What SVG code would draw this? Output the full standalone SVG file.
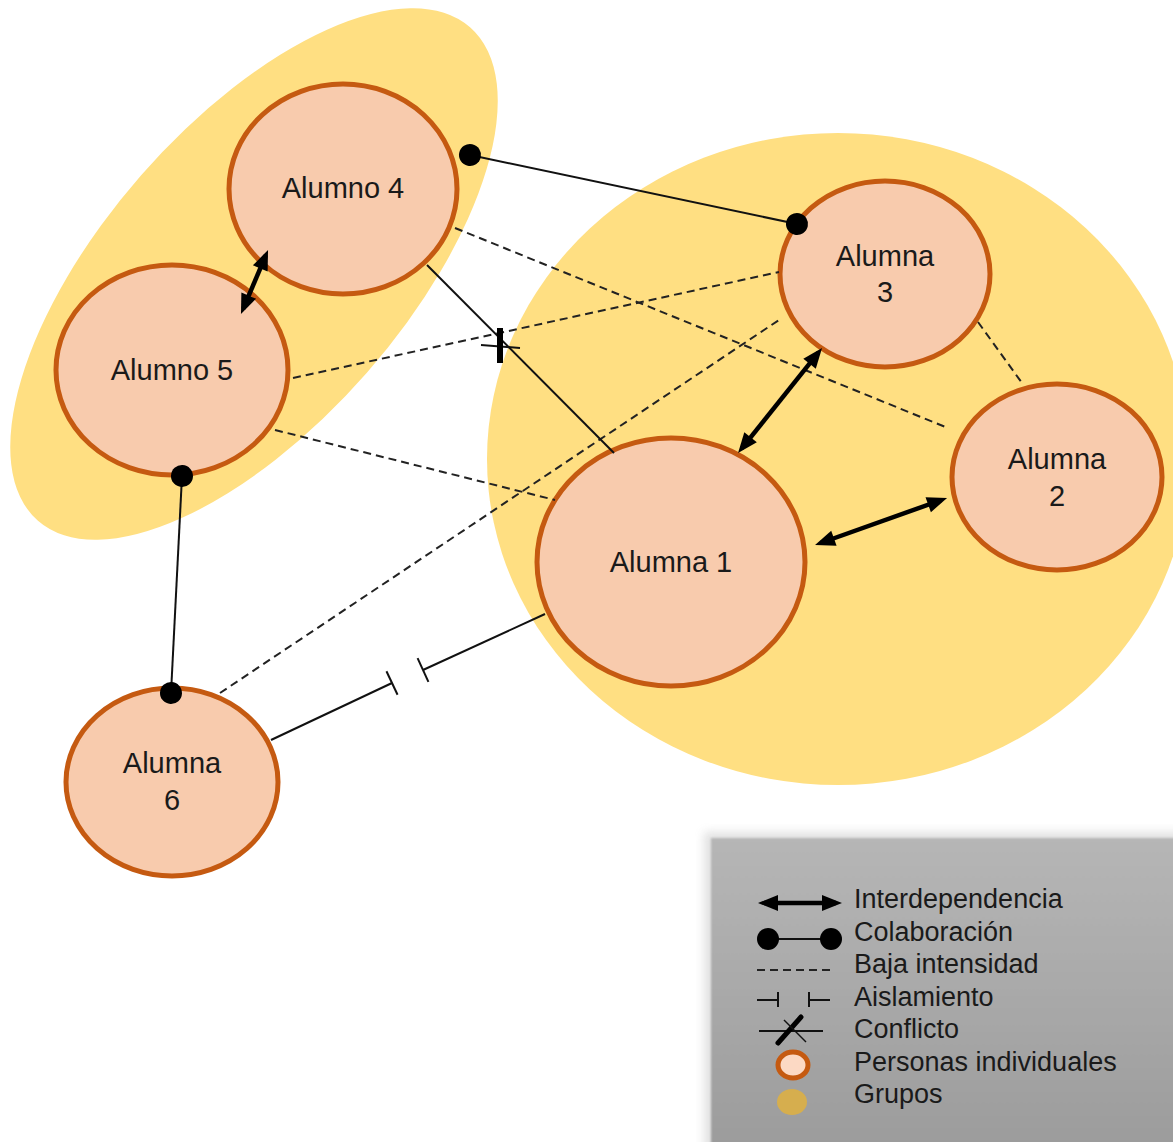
<svg xmlns="http://www.w3.org/2000/svg" width="1173" height="1142" viewBox="0 0 1173 1142">
  <defs>
    <style>
      .group { fill: #FFDF82; }
      .node { fill: #F8CBAD; stroke: #C55A11; stroke-width: 5; }
      .label { font-family: "Liberation Sans", Arial, sans-serif; font-size: 29px; fill: #1a1a1a; text-anchor: middle; }
      .legend-text { font-family: "Liberation Sans", Arial, sans-serif; font-size: 27px; fill: #1a1a1a; }
      .solid { stroke: #111; stroke-width: 2; fill: none; }
      .dashed { stroke: #222; stroke-width: 2; stroke-dasharray: 8 5; fill: none; }
      .interdep { stroke: #000; stroke-width: 4.5; fill: none; marker-start: url(#arrow); marker-end: url(#arrow); }
      .collab { stroke: #111; stroke-width: 2; fill: none; marker-start: url(#dot); marker-end: url(#dot); }
      .isolation { stroke: #111; stroke-width: 2; fill: none; marker-end: url(#tee); }
    </style>
    <marker id="arrow" markerUnits="userSpaceOnUse" markerWidth="20" markerHeight="16" viewBox="0 0 20 16" refX="14" refY="8" orient="auto-start-reverse" overflow="visible">
      <path d="M0,0 L20,8 L0,16 Z" fill="#000"/>
    </marker>
    <marker id="dot" markerUnits="userSpaceOnUse" markerWidth="24" markerHeight="24" viewBox="-12 -12 24 24" refX="0" refY="0" orient="auto" overflow="visible">
      <circle r="11" fill="#000"/>
    </marker>
    <marker id="tee" markerUnits="userSpaceOnUse" markerWidth="4" markerHeight="28" viewBox="0 0 4 28" refX="2" refY="14" orient="auto" overflow="visible">
      <path d="M2,1 V27" stroke="#111" stroke-width="2"/>
    </marker>
    <linearGradient id="legendFill" x1="0" y1="0" x2="0" y2="1">
      <stop offset="0" stop-color="#B6B6B6"/>
      <stop offset="1" stop-color="#9C9C9C"/>
    </linearGradient>
    <filter id="soft" x="-5%" y="-5%" width="110%" height="110%">
      <feGaussianBlur stdDeviation="1.2"/>
    </filter>
    <filter id="halo" x="-10%" y="-10%" width="120%" height="120%">
      <feGaussianBlur stdDeviation="5"/>
    </filter>
  </defs>

  <rect width="1173" height="1142" fill="#fff"/>

  <!-- Groups -->
  <g id="groups">
    <ellipse id="group-left" class="group" cx="254" cy="274" rx="328" ry="150" transform="rotate(-48.8 254 274)"/>
    <ellipse id="group-right" class="group" cx="838" cy="459" rx="351" ry="326"/>
  </g>

  <!-- People -->
  <g id="alumno4">
    <ellipse class="node" cx="343" cy="189" rx="114" ry="105"/>
    <text class="label" x="343" y="198">Alumno 4</text>
  </g>
  <g id="alumno5">
    <ellipse class="node" cx="172" cy="370" rx="116" ry="105"/>
    <text class="label" x="172" y="380">Alumno 5</text>
  </g>
  <g id="alumna3">
    <ellipse class="node" cx="885" cy="274" rx="105" ry="93"/>
    <text class="label" x="885" y="266">Alumna</text>
    <text class="label" x="885" y="302">3</text>
  </g>
  <g id="alumna2">
    <ellipse class="node" cx="1057" cy="477" rx="105" ry="93"/>
    <text class="label" x="1057" y="469">Alumna</text>
    <text class="label" x="1057" y="506">2</text>
  </g>
  <g id="alumna1">
    <ellipse class="node" cx="671" cy="562" rx="134" ry="124"/>
    <text class="label" x="671" y="572">Alumna 1</text>
  </g>
  <g id="alumna6">
    <ellipse class="node" cx="172" cy="782" rx="106" ry="94"/>
    <text class="label" x="172" y="773">Alumna</text>
    <text class="label" x="172" y="810">6</text>
  </g>

  <!-- Relations -->
  <g id="connectors">
    <!-- low intensity -->
    <line class="dashed" x1="455" y1="228" x2="948" y2="428"/>
    <line class="dashed" x1="293" y1="378" x2="779" y2="272"/>
    <line class="dashed" x1="275" y1="430" x2="555" y2="500"/>
    <line class="dashed" x1="220" y1="693" x2="779" y2="320"/>
    <line class="dashed" x1="978" y1="322" x2="1022" y2="383"/>

    <!-- collaboration -->
    <line class="collab" x1="470" y1="155" x2="797" y2="224"/>
    <line class="collab" x1="182" y1="476" x2="171" y2="693"/>

    <!-- interdependence -->
    <line class="interdep" x1="265.7" y1="255.5" x2="243.3" y2="308.5"/>
    <line class="interdep" x1="818.3" y1="352.7" x2="741.8" y2="448.3"/>
    <line class="interdep" x1="820.7" y1="543.0" x2="941.4" y2="500.0"/>

    <!-- conflict -->
    <line class="solid" x1="427" y1="265" x2="614" y2="453"/>
    <line class="solid" x1="481" y1="345" x2="520" y2="348"/>
    <line stroke="#000" stroke-width="6" x1="500" y1="328" x2="500" y2="363"/>

    <!-- isolation -->
    <line class="isolation" x1="271" y1="740" x2="392" y2="683"/>
    <line class="isolation" x1="545" y1="614" x2="423" y2="670"/>
  </g>

  <!-- Legend -->
  <g id="legend">
    <rect x="704" y="832" width="480" height="320" fill="#8a8a8a" opacity="0.25" filter="url(#halo)"/>
    <rect x="711" y="838" width="470" height="310" fill="url(#legendFill)" filter="url(#soft)"/>

    <line class="interdep" x1="764" y1="903" x2="836" y2="903"/>
    <text class="legend-text" x="854" y="908">Interdependencia</text>

    <line class="collab" x1="768" y1="939" x2="831" y2="939"/>
    <text class="legend-text" x="854" y="941">Colaboración</text>

    <line class="dashed" x1="757" y1="970" x2="832" y2="970"/>
    <text class="legend-text" x="854" y="973">Baja intensidad</text>

    <path class="solid" d="M757,1000 H778 M778,992 V1007 M809,992 V1007 M809,1000 H830"/>
    <text class="legend-text" x="854" y="1006">Aislamiento</text>

    <line class="solid" x1="759" y1="1031" x2="823" y2="1031"/>
    <line stroke="#000" stroke-width="5" stroke-linecap="round" x1="778" y1="1043" x2="801" y2="1017"/>
    <line stroke="#111" stroke-width="1.5" x1="784" y1="1020" x2="806" y2="1042"/>
    <text class="legend-text" x="854" y="1038">Conflicto</text>

    <ellipse cx="793" cy="1065" rx="15" ry="13" fill="#FCD9C4" stroke="#C55A11" stroke-width="5"/>
    <text class="legend-text" x="854" y="1071">Personas individuales</text>

    <ellipse cx="792" cy="1102" rx="15" ry="13" fill="#D6AE4E"/>
    <text class="legend-text" x="854" y="1103">Grupos</text>
  </g>
</svg>
